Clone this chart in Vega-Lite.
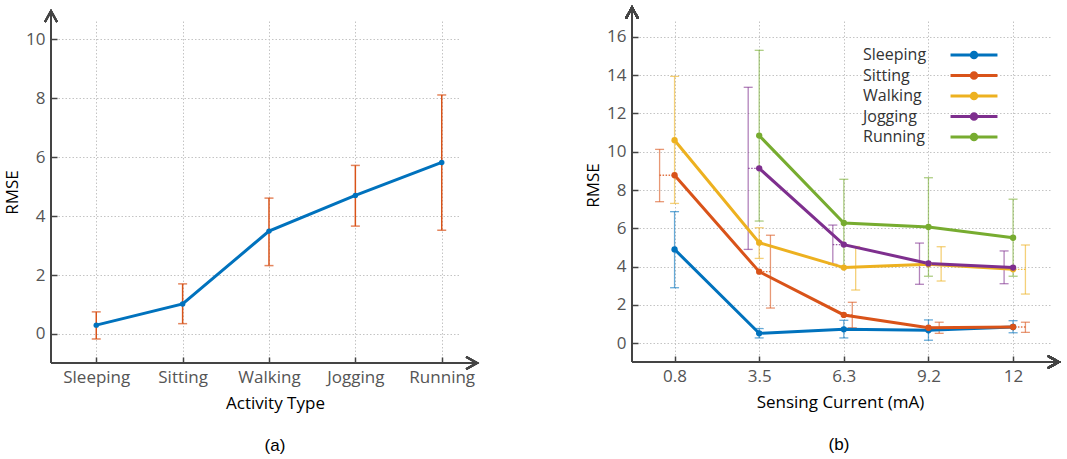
{
  "$schema": "https://vega.github.io/schema/vega-lite/v6.json",
  "background": "white",
  "padding": {"left": 3, "top": 3, "right": 5, "bottom": 5},
  "spacing": 102,
  "resolve": {"scale": {"color": "independent"}, "legend": {"color": "independent"}},
  "config": {
    "font": "Open Sans",
    "view": {"stroke": null},
    "axis": {
      "domain": false, "grid": true, "gridColor": "#c4c4c4", "gridDash": [1.5, 2], "gridWidth": 1,
      "tickColor": "#444", "tickWidth": 1.5, "tickSize": -6,
      "labelColor": "#555", "labelFontSize": 17, "labelFont": "Open Sans", "labelPadding": 12,
      "titleFont": "Open Sans", "titleFontSize": 17, "titleFontWeight": "normal", "titleColor": "#000"
    },
    "axisX": {"titlePadding": 10}
  },
  "hconcat": [
    {
      "width": 408, "height": 342,
      "title": {"text": "(a)", "orient": "bottom", "offset": 27, "dx": 20, "font": "Liberation Sans", "fontSize": 17, "fontWeight": "normal", "color": "#000"},
      "data": {"values": [
        {"activity": "Sleeping", "idx": 0, "rmse": 0.30, "lo": -0.17, "hi": 0.75},
        {"activity": "Sitting", "idx": 1, "rmse": 1.02, "lo": 0.35, "hi": 1.70},
        {"activity": "Walking", "idx": 2, "rmse": 3.49, "lo": 2.32, "hi": 4.61},
        {"activity": "Jogging", "idx": 3, "rmse": 4.70, "lo": 3.66, "hi": 5.72},
        {"activity": "Running", "idx": 4, "rmse": 5.82, "lo": 3.52, "hi": 8.11}
      ]},
      "layer": [
        {
          "mark": {"type": "rule", "color": "#D95319", "strokeWidth": 1.5},
          "encoding": {
            "x": {"field": "idx", "type": "quantitative", "scale": {"domain": [-0.524, 4.2], "nice": false, "zero": false},
                  "axis": {"values": [0, 1, 2, 3, 4], "labelExpr": "['Sleeping','Sitting','Walking','Jogging','Running'][datum.value]", "title": "Activity Type", "titleX": 224}},
            "y": {"field": "lo", "type": "quantitative", "scale": {"domain": [-0.985, 10.62], "nice": false, "zero": false},
                  "axis": {"values": [0, 2, 4, 6, 8, 10], "title": "RMSE"}},
            "y2": {"field": "hi"}
          }
        },
        {"mark": {"type": "tick", "orient": "horizontal", "color": "#D95319", "size": 9, "thickness": 1.5},
         "encoding": {"x": {"field": "idx", "type": "quantitative"}, "y": {"field": "lo", "type": "quantitative"}}},
        {"mark": {"type": "tick", "orient": "horizontal", "color": "#D95319", "size": 9, "thickness": 1.5},
         "encoding": {"x": {"field": "idx", "type": "quantitative"}, "y": {"field": "hi", "type": "quantitative"}}},
        {"mark": {"type": "line", "color": "#0072BD", "strokeWidth": 3},
         "encoding": {"x": {"field": "idx", "type": "quantitative"}, "y": {"field": "rmse", "type": "quantitative"}}},
        {"mark": {"type": "point", "filled": true, "color": "#0072BD", "size": 30, "opacity": 1},
         "encoding": {"x": {"field": "idx", "type": "quantitative"}, "y": {"field": "rmse", "type": "quantitative"}}},
        {"mark": {"type": "rule", "color": "#444", "strokeWidth": 2},
         "encoding": {"x": {"datum": -0.524}, "x2": {"datum": 4.41}, "y": {"datum": -0.985}}},
        {"mark": {"type": "rule", "color": "#444", "strokeWidth": 2},
         "encoding": {"x": {"datum": -0.524}, "y": {"datum": -0.985}, "y2": {"datum": 10.96}}},
        {"mark": {"type": "point", "shape": "M-1,-0.55L0,0L-1,0.55", "filled": false, "stroke": "#444", "strokeWidth": 2, "size": 484, "opacity": 1},
         "encoding": {"x": {"datum": 4.41}, "y": {"datum": -0.985}}},
        {"mark": {"type": "point", "shape": "M-0.55,1L0,0L0.55,1", "filled": false, "stroke": "#444", "strokeWidth": 2, "size": 484, "opacity": 1},
         "encoding": {"x": {"datum": -0.524}, "y": {"datum": 10.96}}}
      ]
    },
    {
      "width": 420, "height": 341,
      "title": {"text": "(b)", "orient": "bottom", "offset": 27, "dx": -3, "font": "Liberation Sans", "fontSize": 17, "fontWeight": "normal", "color": "#000"},
      "data": {"values": [
        {"series": "Sleeping", "idx": 0, "xe": 0, "rmse": 4.90, "lo": 2.90, "hi": 6.87},
        {"series": "Sleeping", "idx": 1, "xe": 1, "rmse": 0.52, "lo": 0.28, "hi": 0.77},
        {"series": "Sleeping", "idx": 2, "xe": 2, "rmse": 0.73, "lo": 0.28, "hi": 1.20},
        {"series": "Sleeping", "idx": 3, "xe": 3, "rmse": 0.68, "lo": 0.16, "hi": 1.22},
        {"series": "Sleeping", "idx": 4, "xe": 4, "rmse": 0.85, "lo": 0.55, "hi": 1.18},
        {"series": "Sitting", "idx": 0, "xe": -0.177, "rmse": 8.77, "lo": 7.39, "hi": 10.12},
        {"series": "Sitting", "idx": 1, "xe": 1.133, "rmse": 3.74, "lo": 1.84, "hi": 5.64},
        {"series": "Sitting", "idx": 2, "xe": 2.10, "rmse": 1.48, "lo": 0.81, "hi": 2.14},
        {"series": "Sitting", "idx": 3, "xe": 3.127, "rmse": 0.81, "lo": 0.52, "hi": 1.10},
        {"series": "Sitting", "idx": 4, "xe": 4.146, "rmse": 0.85, "lo": 0.57, "hi": 1.10},
        {"series": "Walking", "idx": 0, "xe": 0, "rmse": 10.60, "lo": 7.30, "hi": 13.93},
        {"series": "Walking", "idx": 1, "xe": 1, "rmse": 5.25, "lo": 4.43, "hi": 6.03},
        {"series": "Walking", "idx": 2, "xe": 2.14, "rmse": 3.95, "lo": 2.78, "hi": 5.05},
        {"series": "Walking", "idx": 3, "xe": 3.15, "rmse": 4.12, "lo": 3.25, "hi": 5.04},
        {"series": "Walking", "idx": 4, "xe": 4.146, "rmse": 3.86, "lo": 2.57, "hi": 5.13},
        {"series": "Jogging", "idx": 1, "xe": 0.87, "rmse": 9.13, "lo": 4.90, "hi": 13.36},
        {"series": "Jogging", "idx": 2, "xe": 1.87, "rmse": 5.15, "lo": 4.12, "hi": 6.17},
        {"series": "Jogging", "idx": 3, "xe": 2.894, "rmse": 4.17, "lo": 3.08, "hi": 5.23},
        {"series": "Jogging", "idx": 4, "xe": 3.894, "rmse": 3.95, "lo": 3.11, "hi": 4.82},
        {"series": "Running", "idx": 1, "xe": 1, "rmse": 10.84, "lo": 6.38, "hi": 15.29},
        {"series": "Running", "idx": 2, "xe": 2, "rmse": 6.28, "lo": 3.95, "hi": 8.56},
        {"series": "Running", "idx": 3, "xe": 3, "rmse": 6.07, "lo": 3.50, "hi": 8.64},
        {"series": "Running", "idx": 4, "xe": 4, "rmse": 5.51, "lo": 3.50, "hi": 7.52}
      ]},
      "layer": [
        {
          "encoding": {
            "color": {"field": "series", "type": "nominal",
              "scale": {"domain": ["Sleeping", "Sitting", "Walking", "Jogging", "Running"], "range": ["#0072BD", "#D95319", "#EDB120", "#7E2F8E", "#77AC30"]},
              "legend": {"title": null, "orient": "none", "legendX": 331, "legendY": 23, "padding": 0, "rowPadding": 0.5,
                "symbolType": "M-2.47,0L2.47,0M0.29,0A0.29,0.29,0,1,1,-0.29,0A0.29,0.29,0,1,1,0.29,0M0.1,0A0.1,0.1,0,1,1,-0.1,0A0.1,0.1,0,1,1,0.1,0",
                "symbolSize": 361, "symbolStrokeWidth": 3, "symbolOpacity": 1,
                "labelOffset": -122, "labelFontSize": 16, "labelColor": "#333", "labelFont": "Open Sans"}}
          },
          "layer": [
            {
              "mark": {"type": "rule", "strokeWidth": 1.3, "opacity": 0.6},
              "encoding": {
                "x": {"field": "xe", "type": "quantitative", "scale": {"domain": [-0.503, 4.46], "nice": false, "zero": false},
                      "axis": {"values": [0, 1, 2, 3, 4], "labelExpr": "['0.8','3.5','6.3','9.2','12'][datum.value]", "title": "Sensing Current (mA)", "titleX": 208}},
                "y": {"field": "lo", "type": "quantitative", "scale": {"domain": [-0.976, 16.82], "nice": false, "zero": false},
                      "axis": {"values": [0, 2, 4, 6, 8, 10, 12, 14, 16], "title": "RMSE", "titleY": 164}},
                "y2": {"field": "hi"}
              }
            },
            {"mark": {"type": "tick", "orient": "horizontal", "size": 9, "thickness": 1.3, "opacity": 0.6},
             "encoding": {"x": {"field": "xe", "type": "quantitative"}, "y": {"field": "lo", "type": "quantitative"}}},
            {"mark": {"type": "tick", "orient": "horizontal", "size": 9, "thickness": 1.3, "opacity": 0.6},
             "encoding": {"x": {"field": "xe", "type": "quantitative"}, "y": {"field": "hi", "type": "quantitative"}}},
            {"transform": [{"filter": "datum.xe != datum.idx"}],
             "mark": {"type": "rule", "strokeWidth": 1.3, "strokeDash": [1.5, 1.5], "opacity": 0.8},
             "encoding": {"x": {"field": "xe", "type": "quantitative"}, "x2": {"field": "idx"}, "y": {"field": "rmse", "type": "quantitative"}}},
            {"mark": {"type": "line", "strokeWidth": 3},
             "encoding": {"x": {"field": "idx", "type": "quantitative"}, "y": {"field": "rmse", "type": "quantitative"}}},
            {"mark": {"type": "point", "filled": true, "size": 40, "opacity": 1},
             "encoding": {"x": {"field": "idx", "type": "quantitative"}, "y": {"field": "rmse", "type": "quantitative"}}}
          ]
        },
        {"mark": {"type": "rule", "color": "#444", "strokeWidth": 2},
         "encoding": {"x": {"datum": -0.503}, "x2": {"datum": 4.54}, "y": {"datum": -0.976}}},
        {"mark": {"type": "rule", "color": "#444", "strokeWidth": 2},
         "encoding": {"x": {"datum": -0.503}, "y": {"datum": -0.976}, "y2": {"datum": 17.52}}},
        {"mark": {"type": "point", "shape": "M-1,-0.55L0,0L-1,0.55", "filled": false, "stroke": "#444", "strokeWidth": 2, "size": 484, "opacity": 1},
         "encoding": {"x": {"datum": 4.54}, "y": {"datum": -0.976}}},
        {"mark": {"type": "point", "shape": "M-0.55,1L0,0L0.55,1", "filled": false, "stroke": "#444", "strokeWidth": 2, "size": 484, "opacity": 1},
         "encoding": {"x": {"datum": -0.503}, "y": {"datum": 17.52}}}
      ]
    }
  ]
}
